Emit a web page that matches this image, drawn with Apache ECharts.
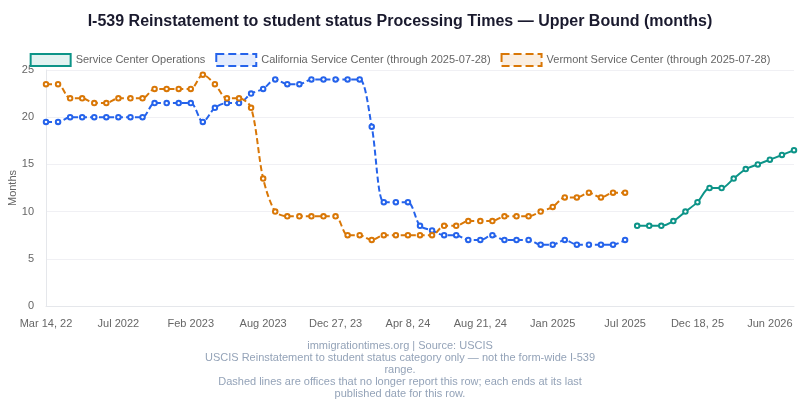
<!DOCTYPE html>
<html>
<head>
<meta charset="UTF-8">
<title>I-539 Reinstatement to student status</title>
<script src="https://cdn.jsdelivr.net/npm/echarts@6/dist/echarts.min.js"></script>
<style>
	html, body { margin: 0; padding: 0; background: #fff; }
	#chart { width: 800px; height: 400px; }
</style>
</head>
<body>
<div id="chart"></div>
<script>
// publication dates (category axis, only every 6th label shows)
var dates = [
	'Mar 14, 22','Apr 1, 22','Apr 19, 22','May 6, 22','May 24, 22','Jun 14, 22',
	'Jul 2022','Jul 26, 22','Aug 22, 22','Sep 20, 22','Oct 25, 22','Dec 8, 22',
	'Feb 2023','Mar 3, 23','Mar 31, 23','Apr 28, 23','May 31, 23','Jun 29, 23',
	'Aug 2023','Aug 30, 23','Sep 29, 23','Oct 13, 23','Oct 31, 23','Nov 20, 23',
	'Dec 27, 23','Jan 12, 24','Jan 31, 24','Feb 16, 24','Mar 5, 24','Mar 21, 24',
	'Apr 8, 24','Apr 30, 24','May 17, 24','Jun 5, 24','Jun 25, 24','Jul 17, 24',
	'Aug 21, 24','Sep 13, 24','Oct 4, 24','Nov 1, 24','Nov 22, 24','Dec 13, 24',
	'Jan 2025','Feb 3, 25','Feb 28, 25','Mar 28, 25','Apr 25, 25','May 30, 25',
	'Jul 2025','Aug 22, 25','Sep 5, 25','Sep 26, 25','Oct 10, 25','Nov 14, 25',
	'Dec 18, 25','Jan 16, 26','Feb 6, 26','Mar 6, 26','Apr 3, 26','May 1, 26',
	'Jun 2026','Jul 2, 26','Jul 30, 26'
];

// months, upper bound
var california = [19.5,19.5,20,20,20,20,20,20,20,21.5,21.5,21.5,21.5,19.5,21,21.5,21.5,22.5,23,24,
	23.5,23.5,24,24,24,24,24,19,11,11,11,8.5,8,7.5,7.5,7,7,7.5,7,7,7,6.5,6.5,7,6.5,6.5,6.5,6.5,7];
var vermont = [23.5,23.5,22,22,21.5,21.5,22,22,22,23,23,23,23,24.5,23.5,22,22,21,13.5,10,
	9.5,9.5,9.5,9.5,9.5,7.5,7.5,7,7.5,7.5,7.5,7.5,7.5,8.5,8.5,9,9,9,9.5,9.5,9.5,10,10.5,11.5,11.5,12,11.5,12,12];
var sco = [8.5,8.5,8.5,9,10,11,12.5,12.5,13.5,14.5,15,15.5,16,16.5];
var scoStart = 49;

var yTicks = { min: 0, max: 25, step: 5 };

function padTo(arr, start, len) {
	var out = [];
	for (var i = 0; i < len; i++) {
		var k = i - start;
		out.push(k >= 0 && k < arr.length ? arr[k] : null);
	}
	return out;
}

var n = dates.length;
var chart = echarts.init(document.getElementById('chart'));

chart.setOption({
	animation: false,
	title: {
		text: 'I-539 Reinstatement to student status Processing Times \u2014 Upper Bound (months)',
		left: 'center',
		top: 9,
		textStyle: { fontSize: 16, fontWeight: 'bold', color: '#1a1a2e', fontFamily: 'Liberation Sans, Arial, sans-serif' }
	},
	legend: {
		top: 48,
		left: 'center',
		itemWidth: 40,
		itemHeight: 12,
		itemGap: 10,
		textStyle: { color: '#666', fontSize: 11 },
		data: [
			{ name: 'Service Center Operations', icon: 'rect',
				itemStyle: { color: 'rgba(13,148,136,0.12)', borderColor: '#0d9488', borderWidth: 2 } },
			{ name: 'California Service Center (through 2025-07-28)', icon: 'rect',
				itemStyle: { color: 'rgba(37,99,235,0.12)', borderColor: '#2563eb', borderWidth: 2, borderType: 'dashed' } },
			{ name: 'Vermont Service Center (through 2025-07-28)', icon: 'rect',
				itemStyle: { color: 'rgba(217,119,6,0.12)', borderColor: '#d97706', borderWidth: 2, borderType: 'dashed' } }
		]
	},
	grid: { left: 46, right: 6, top: 70, bottom: 94, outerBoundsMode: 'none', containLabel: false },
	xAxis: {
		type: 'category',
		boundaryGap: false,
		data: dates,
		axisLine: { lineStyle: { color: '#e5e7eb' } },
		axisTick: { show: false },
		axisLabel: { interval: 5, color: '#666', fontSize: 11, margin: 12 }
	},
	yAxis: {
		type: 'value',
		min: yTicks.min,
		max: yTicks.max,
		interval: yTicks.step,
		name: 'Months',
		nameLocation: 'middle',
		nameGap: 28,
		nameMoveOverlap: false,
		nameTextStyle: { color: '#666', fontSize: 11 },
		axisLine: { show: true, lineStyle: { color: '#e5e7eb' } },
		axisLabel: { color: '#666', fontSize: 11, margin: 12 },
		splitLine: { lineStyle: { color: '#f0f0f4' } }
	},
	series: [
		{
			name: 'Service Center Operations',
			type: 'line',
			data: padTo(sco, scoStart, n),
			smooth: 0.3,
			symbol: 'emptyCircle',
			symbolSize: 4.5,
			lineStyle: { color: '#0d9488', width: 2 },
			itemStyle: { color: '#0d9488', borderWidth: 2.5 }
		},
		{
			name: 'California Service Center (through 2025-07-28)',
			type: 'line',
			data: padTo(california, 0, n),
			smooth: 0.3,
			symbol: 'emptyCircle',
			symbolSize: 4.5,
			lineStyle: { color: '#2563eb', width: 2, type: [6, 3] },
			itemStyle: { color: '#2563eb', borderWidth: 2.5 }
		},
		{
			name: 'Vermont Service Center (through 2025-07-28)',
			type: 'line',
			data: padTo(vermont, 0, n),
			smooth: 0.3,
			symbol: 'emptyCircle',
			symbolSize: 4.5,
			lineStyle: { color: '#d97706', width: 2, type: [6, 3] },
			itemStyle: { color: '#d97706', borderWidth: 2.5 }
		}
	],
	graphic: [{
		type: 'text',
		left: 'center',
		top: 340,
		style: {
			text: 'immigrationtimes.org | Source: USCIS\nUSCIS Reinstatement to student status category only \u2014 not the form-wide I-539\nrange.\nDashed lines are offices that no longer report this row; each ends at its last\npublished date for this row.',
			textAlign: 'center',
			fill: '#94a3b8',
			fontSize: 11,
			lineHeight: 12
		}
	}]
});
</script>
</body>
</html>
